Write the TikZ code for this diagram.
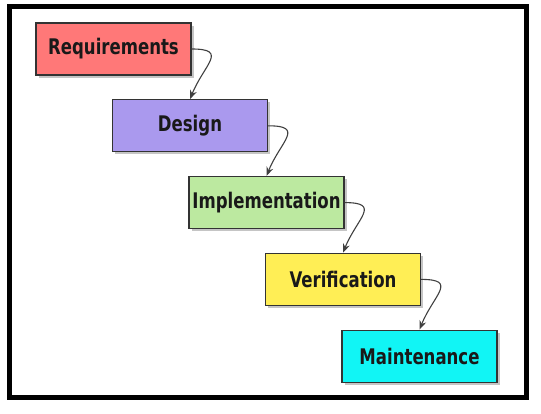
\documentclass[tikz,border=0pt]{standalone}
\usepackage{fontspec}
\setmainfont{DejaVu Sans}[BoldFeatures={FakeStretch=0.77}]
\usepackage{tikz}
\usetikzlibrary{arrows.meta}
\usetikzlibrary{positioning,shadows}

\definecolor{reqred}{HTML}{FF7878}
\definecolor{deslav}{HTML}{AA99EE}
\definecolor{impgreen}{HTML}{BCE9A0}
\definecolor{veryellow}{HTML}{FFEE55}
\definecolor{maincyan}{HTML}{11F5F5}

\tikzset{
  phase/.style={draw=black!80, line width=1.3pt, minimum width=155pt, minimum height=52pt,
                inner xsep=2pt, font=\fontsize{21.5}{24}\selectfont\bfseries, text=black!90,
                drop shadow={shadow xshift=2.5pt, shadow yshift=-2.5pt, opacity=0.45}},
  flow/.style={-{Stealth[length=9pt,width=7pt]}, draw=black!75, line width=1.1pt,
               out=0, in=68, looseness=1.9}
}

\begin{document}
\begin{tikzpicture}[x=1pt, y=-1pt]
   \useasboundingbox (0,0) rectangle (541,413);
   % outer frame
   \draw[line width=5pt, fill=white,
         drop shadow={shadow xshift=0pt, shadow yshift=-3pt, opacity=0.25}]
        (9,6) rectangle (526,397);

   % the phases
   \node[phase, fill=reqred] (req) at (113.5,49) {Requirements};
   \node[phase, fill=deslav, below right=23.5pt and -79.8pt of req] (des) {Design};
   \node[phase, fill=impgreen, below right=23.5pt and -79.8pt of des] (imp) {Implementation};
   \node[phase, fill=veryellow, below right=23.5pt and -79.8pt of imp] (ver) {Verification};
   \node[phase, fill=maincyan, below right=23.5pt and -79.8pt of ver] (mai) {Maintenance};

   % connectors
   \draw[flow] (req.east) to (des.north);
   \draw[flow] (des.east) to (imp.north);
   \draw[flow] (imp.east) to (ver.north);
   \draw[flow] (ver.east) to (mai.north);
\end{tikzpicture}
\end{document}
